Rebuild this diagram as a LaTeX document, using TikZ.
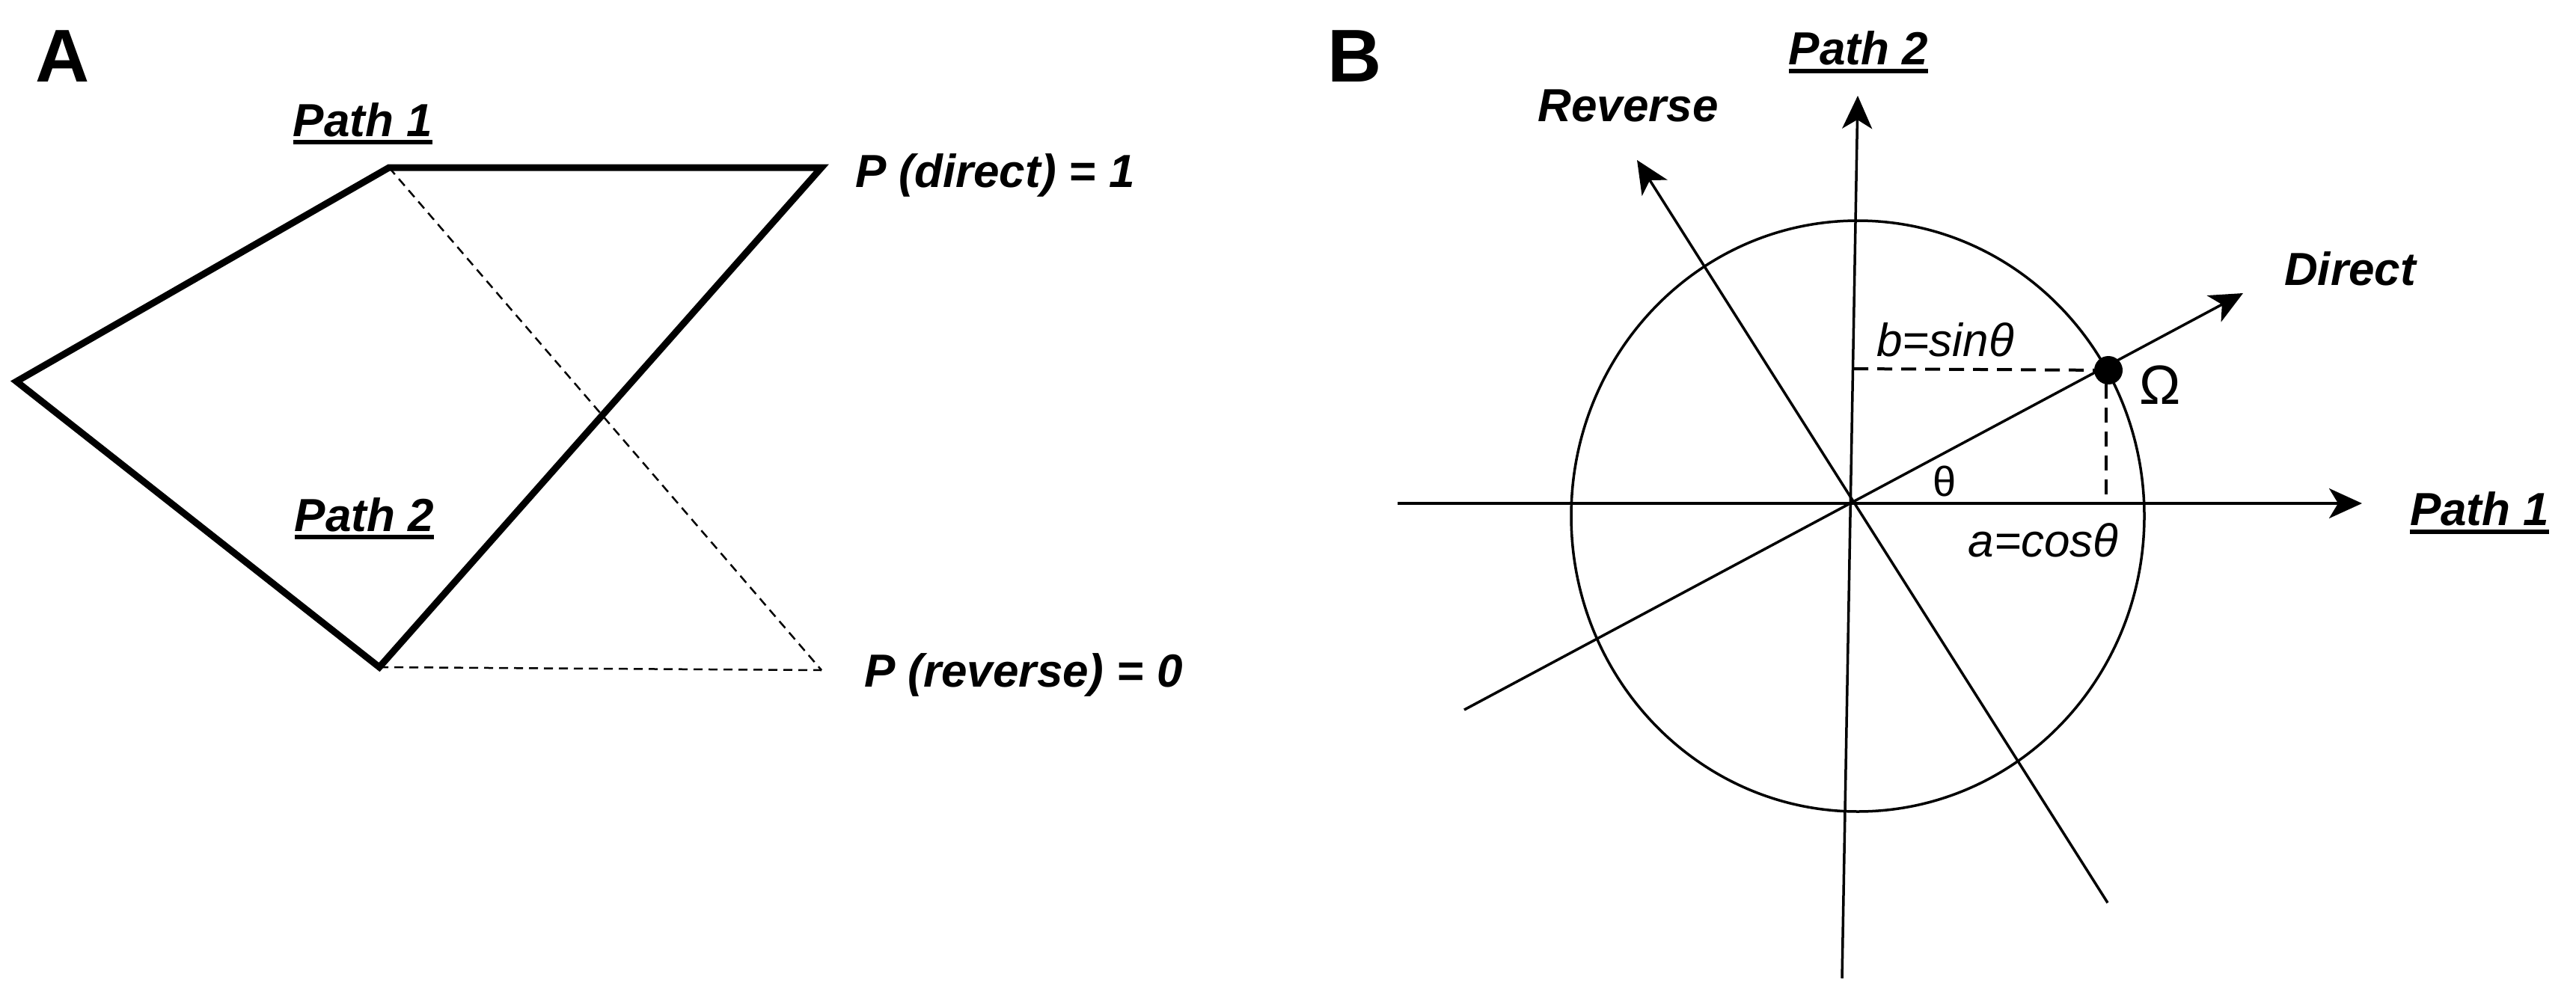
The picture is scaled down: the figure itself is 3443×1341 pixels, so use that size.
\documentclass[tikz,border=0pt]{standalone}
\usepackage{fontspec}
\setmainfont{Liberation Sans}
\usetikzlibrary{arrows.meta}
\begin{document}
\begin{tikzpicture}[x=1pt,y=-1pt,
  lbl/.style={font=\fontsize{62}{70}\selectfont\bfseries\itshape, inner sep=0pt},
  panel/.style={font=\fontsize{100}{110}\selectfont\bfseries, inner sep=0pt},
  mathlbl/.style={font=\fontsize{62}{70}\selectfont\itshape, inner sep=0pt},
  uline/.style={line width=6pt},
  thickedge/.style={line width=9pt, line join=miter},
  thindash/.style={line width=2.5pt, dash pattern=on 12pt off 8pt},
  axis/.style={line width=3.5pt},
  arr/.style={axis, -{Stealth[length=44pt,width=40pt,inset=12pt]}},
  proj/.style={line width=4pt, dash pattern=on 20pt off 12pt}]
\useasboundingbox (0,0) rectangle (3443,1341);

% ---------- Panel A ----------
\node[panel] (labA) at (84,75) {A};
\coordinate (tl) at (520,224);
\coordinate (tr) at (1098,224);
\coordinate (lf) at (22,510);
\coordinate (bt) at (507,892);
\coordinate (br) at (1098,896);
\draw[thickedge] (tr) -- (tl) -- (lf) -- (bt) -- cycle;
\draw[thindash] (tl) -- (br);
\draw[thindash] (bt) -- (br);

\node[lbl] (p1a) at (485,160) {Path 1};
\draw[uline] ([yshift=-7pt]p1a.south west) -- ([yshift=-7pt]p1a.south east);
\node[lbl] (p2a) at (487,688) {Path 2};
\draw[uline] ([yshift=-7pt]p2a.south west) -- ([yshift=-7pt]p2a.south east);
\node[lbl] (pdir) at (1330,234) {P (direct) = 1};
\node[lbl] (prev) at (1368,902) {P (reverse) = 0};

% ---------- Panel B ----------
\node[panel] (labB) at (1811,75) {B};
\coordinate (O) at (2476,673);
\coordinate (xl) at (1868,673);
\coordinate (xr) at (3157,673);
\coordinate (yb) at (2462,1308);
\coordinate (yt) at (2483,128);
\coordinate (rb) at (2817,1207);
\coordinate (rt) at (2188,214);
\coordinate (db) at (1957,949);
\coordinate (dt) at (2998,392);
\coordinate (om) at (2818,495);

\draw[axis] (2483,690) ellipse [x radius=383, y radius=395];
\draw[arr] (xl) -- (xr);
\draw[arr] (yb) -- (yt);
\draw[arr] (rb) -- (rt);
\draw[arr] (db) -- (dt);
\draw[proj] (2477,493) -- (om);
\draw[proj] (2815,513) -- (2815,673);
\fill (om) circle (19);

\node[lbl] (p2b) at (2484,64) {Path 2};
\draw[uline] ([yshift=-8pt]p2b.south west) -- ([yshift=-8pt]p2b.south east);
\node[lbl] (p1b) at (3314,680) {Path 1};
\draw[uline] ([yshift=-8pt]p1b.south west) -- ([yshift=-8pt]p1b.south east);
\node[lbl] (rev) at (2176,141) {Reverse};
\node[lbl] (dir) at (3141,359) {Direct};
\node[mathlbl] (bsin) at (2600,454) {b=sinθ};
\node[mathlbl] (acos) at (2731,722) {a=cosθ};
\node[font=\fontsize{74}{80}\selectfont, inner sep=0pt] (omg) at (2887,515) {Ω};
\node[font=\fontsize{56}{60}\selectfont, inner sep=0pt] (th) at (2599,643) {θ};
\end{tikzpicture}
\end{document}
